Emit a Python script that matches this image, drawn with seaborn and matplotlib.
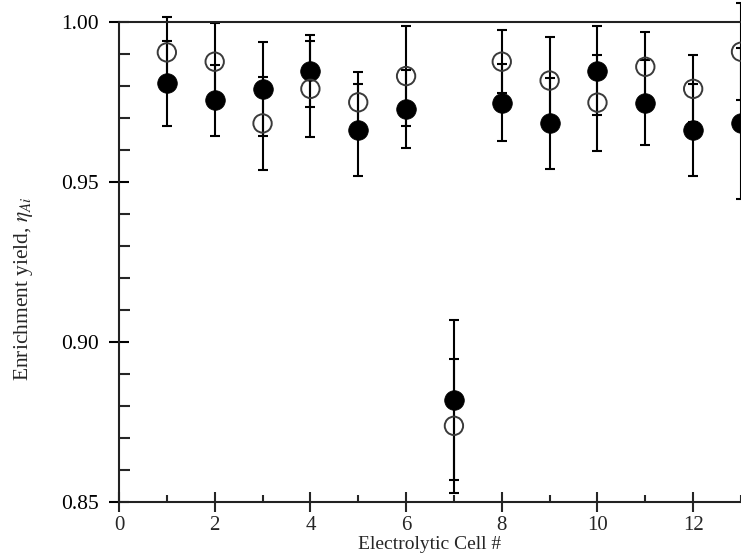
import numpy as np
import pandas as pd
import matplotlib
matplotlib.use("Agg")
import matplotlib.pyplot as plt
import seaborn as sns
from matplotlib.ticker import MultipleLocator

# Enrichment yield per electrolytic cell
cells = list(range(1, 14))
filled_yield = [0.9808, 0.9756, 0.9792, 0.9846, 0.9663, 0.9728, 0.8819,
                0.9748, 0.9683, 0.9848, 0.9748, 0.9663, 0.9683]
filled_err = [0.0133, 0.0111, 0.0147, 0.0112, 0.0143, 0.0123, 0.0251,
              0.0120, 0.0142, 0.0140, 0.0132, 0.0144, 0.0237]
open_yield = [0.9905, 0.9876, 0.9683, 0.9791, 0.9749, 0.9831, 0.8738,
              0.9876, 0.9817, 0.9748, 0.9860, 0.9791, 0.9907]
open_err = [0.0110, 0.0122, 0.0145, 0.0150, 0.0096, 0.0157, 0.0209,
            0.0099, 0.0137, 0.0150, 0.0108, 0.0105, 0.0151]

df = pd.DataFrame({
    "cell": cells,
    "filled": filled_yield,
    "filled_err": filled_err,
    "open": open_yield,
    "open_err": open_err,
})

sns.set_style("ticks")
plt.rcParams["font.family"] = ["Liberation Serif", "DejaVu Serif"]
plt.rcParams["mathtext.fontset"] = "stix"

fig = plt.figure(figsize=(7.41, 5.54), dpi=100)
ax = fig.add_axes([0.1606, 0.0939, 0.8394, 0.8664])

# error bars
ax.errorbar(df["cell"], df["filled"], yerr=df["filled_err"], fmt="none",
            ecolor="black", elinewidth=1.5, capsize=3.4, capthick=1.5,
            clip_on=False, zorder=2)
ax.errorbar(df["cell"], df["open"], yerr=df["open_err"], fmt="none",
            ecolor="black", elinewidth=1.5, capsize=3.4, capthick=1.5,
            clip_on=False, zorder=2)

# markers
sns.scatterplot(data=df, x="cell", y="filled", ax=ax, s=200, color="black",
                edgecolor="black", linewidth=0.5, zorder=3, legend=False)
sns.scatterplot(data=df, x="cell", y="open", ax=ax, s=175,
                facecolors="none", edgecolor="#3a3a3a", linewidth=1.4,
                zorder=3, legend=False)

ax.set_xlim(0, 13)
ax.set_ylim(0.85, 1.00)

ax.xaxis.set_major_locator(MultipleLocator(2))
ax.xaxis.set_minor_locator(MultipleLocator(1))
ax.yaxis.set_major_locator(MultipleLocator(0.05))
ax.yaxis.set_minor_locator(MultipleLocator(0.01))
ax.yaxis.set_major_formatter(matplotlib.ticker.FormatStrFormatter("%.2f"))

ax.tick_params(axis="y", which="major", direction="inout", length=15,
               width=1.5, labelsize=15.5, pad=7, colors="black")
ax.tick_params(axis="y", which="minor", direction="in", length=8, width=1.5)
ax.tick_params(axis="x", which="major", direction="inout", length=15,
               width=1.5, labelsize=15, pad=2.5)
ax.tick_params(axis="x", which="minor", direction="in", length=5, width=1.5)

for side in ["left", "bottom", "top"]:
    ax.spines[side].set_linewidth(1.5)
    ax.spines[side].set_color("#222222")
ax.spines["right"].set_visible(False)

ax.set_xlabel("Electrolytic Cell #", fontsize=14, va="center")
ax.xaxis.set_label_coords(0.5, -0.089)
ax.set_ylabel(r"Enrichment yield, $\eta_{Ai}$", fontsize=15.5, va="center")
ax.yaxis.set_label_coords(-0.154, 0.444)

fig.savefig("out.png", dpi=100)
